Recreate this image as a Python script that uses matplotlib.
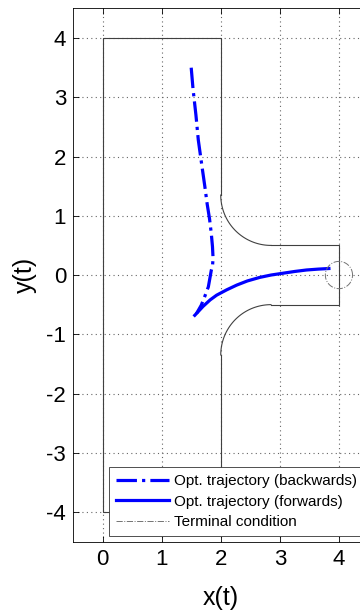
import numpy as np
import matplotlib.pyplot as plt

plt.rcParams['font.family'] = ['Liberation Sans', 'DejaVu Sans']
plt.rcParams['axes.unicode_minus'] = False

# optimal trajectory, integrated backwards from the terminal set
bwd_x = [1.50, 1.53, 1.58, 1.62, 1.68, 1.73, 1.77, 1.81, 1.84, 1.86, 1.87, 1.86, 1.84, 1.79, 1.73, 1.67, 1.59]
bwd_y = [3.50, 3.15, 2.70, 2.28, 1.85, 1.50, 1.20, 0.95, 0.70, 0.48, 0.28, 0.15, 0.08, -0.20, -0.36, -0.51, -0.65]

# optimal trajectory, forwards
fwd_x = [1.56, 1.70, 1.82, 1.93, 2.10, 2.27, 2.45, 2.66, 2.85, 3.05, 3.25, 3.45, 3.65, 3.83]
fwd_y = [-0.68, -0.53, -0.42, -0.34, -0.25, -0.17, -0.10, -0.04, 0.00, 0.03, 0.06, 0.085, 0.10, 0.11]

# domain: room 0..2 x -4..4, corridor to x=4 with half-width 0.5, rounded entrance
room_x = [0, 2]
room_y = [-4, 4]
corr_end = 4.0
corr_half = 0.5
arc_r = 0.85

# terminal set
term_c = (4.0, 0.0)
term_r = 0.23

fig = plt.figure(figsize=(3.6, 6.12), dpi=100)
ax = fig.add_axes([0.2028, 0.115, 0.8208, 0.8712])

bc = '0.25'
blw = 0.8
x0, x1 = room_x
ylo, yhi = room_y
cx = x1 + arc_r
t = np.linspace(np.pi, 1.5 * np.pi, 40)
# upper part
ax.plot([x1, x0, x0, x1, x1], [ylo, ylo, yhi, yhi, corr_half + arc_r], color=bc, lw=blw)
ax.plot(cx + arc_r * np.cos(t), corr_half + arc_r + arc_r * np.sin(t), color=bc, lw=blw)
ax.plot([cx, corr_end, corr_end, cx], [corr_half, corr_half, -corr_half, -corr_half], color=bc, lw=blw)
# lower part
ax.plot(cx + arc_r * np.cos(t), -(corr_half + arc_r + arc_r * np.sin(t)), color=bc, lw=blw)
ax.plot([x1, x1], [ylo, -(corr_half + arc_r)], color=bc, lw=blw)

ax.plot(bwd_x, bwd_y, '-.', color='#0000ff', lw=2.3, label='Opt. trajectory (backwards)')
ax.plot(fwd_x, fwd_y, '-', color='#0000ff', lw=2.3, label='Opt. trajectory (forwards)')
a = np.linspace(0, 2 * np.pi, 100)
ax.plot(term_c[0] + term_r * np.cos(a), term_c[1] + term_r * np.sin(a), '-.',
        color='0.45', lw=0.7, label='Terminal condition')

ax.set_xlim(-0.5, 4.5)
ax.set_ylim(-4.5, 4.5)
ax.set_xticks(range(0, 5))
ax.set_yticks(range(-4, 5))
ax.grid(True, linestyle=(0, (1, 3)), color='0.4', lw=0.8)
ax.tick_params(direction='in', length=4, labelsize=16, width=0.6, top=True, right=True, pad=5)
for s in ax.spines.values():
    s.set_linewidth(0.6)
ax.set_xlabel('x(t)', fontsize=18, labelpad=12)
ax.set_ylabel('y(t)', fontsize=18, labelpad=7)

leg = ax.legend(loc='lower left', bbox_to_anchor=(0.122, 0.0105), fontsize=11,
                handlelength=3.5, handletextpad=0.3, borderpad=0.45, labelspacing=0.42,
                fancybox=False, framealpha=1, borderaxespad=0)
leg.get_frame().set_edgecolor('0.2')
leg.get_frame().set_linewidth(0.6)

fig.savefig('out.png', dpi=100)
